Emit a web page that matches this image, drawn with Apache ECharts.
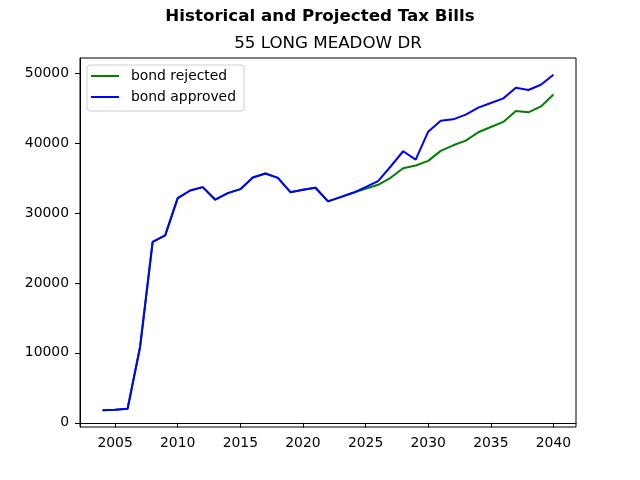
<!DOCTYPE html>
<html lang="en">
<head>
<meta charset="UTF-8">
<title>Historical and Projected Tax Bills</title>
<script src="https://cdn.jsdelivr.net/npm/echarts@6/dist/echarts.min.js"></script>
<style>
html, body { margin: 0; padding: 0; background: #fff; }
#chart { width: 640px; height: 480px; }
</style>
</head>
<body>
<div id="chart"></div>
<script>
// values
const years = [2004, 2005, 2006, 2007, 2008, 2009, 2010, 2011, 2012, 2013, 2014, 2015, 2016,
  2017, 2018, 2019, 2020, 2021, 2022, 2023, 2024, 2025, 2026, 2027, 2028, 2029, 2030, 2031,
  2032, 2033, 2034, 2035, 2036, 2037, 2038, 2039, 2040];
const bondRejected = [1810, 1850, 2000, 10880, 25850, 26800, 32120, 33210, 33690, 31890, 32830,
  33400, 35070, 35640, 35020, 32970, 33310, 33600, 31650, 32260, 32880, 33450, 34020, 35020,
  36400, 36780, 37440, 38870, 39670, 40340, 41530, 42290, 43010, 44570, 44380, 45230, 46940];
const bondApproved = [1810, 1850, 2000, 10880, 25850, 26800, 32120, 33210, 33690, 31890, 32830,
  33400, 35070, 35640, 35020, 32970, 33310, 33600, 31650, 32260, 32880, 33690, 34540, 36640,
  38820, 37630, 41620, 43190, 43380, 44050, 45050, 45720, 46380, 47900, 47570, 48330, 49750];
const xTicks = [2005, 2010, 2015, 2020, 2025, 2030, 2035, 2040];
const yTicks = [0, 10000, 20000, 30000, 40000, 50000];

const font = 'DejaVu Sans';
const chart = echarts.init(document.getElementById('chart'), null, { renderer: 'canvas' });

const pairs = arr => years.map((y, i) => [y, arr[i]]);

chart.setOption({
  animation: false,
  textStyle: { fontFamily: font, color: '#000' },
  graphic: [
    {
      type: 'text', x: 320, y: 17,
      style: { text: 'Historical and Projected Tax Bills', font: 'bold 16.7px "DejaVu Sans"',
        fill: '#000', textAlign: 'center', textVerticalAlign: 'middle' }
    },
    {
      type: 'text', x: 328, y: 44,
      style: { text: '55 LONG MEADOW DR', font: '16.7px "DejaVu Sans"',
        fill: '#000', textAlign: 'center', textVerticalAlign: 'middle' }
    }
  ],
  grid: {
    left: 80, right: 64, top: 58, bottom: 53,
    show: true, borderColor: '#000', borderWidth: 1, backgroundColor: '#fff'
  },
  legend: {
    orient: 'vertical',
    left: 87, top: 65,
    icon: 'rect',
    itemWidth: 28, itemHeight: 2,
    itemGap: 7,
    padding: [4, 8, 7, 4],
    backgroundColor: '#fff',
    borderColor: '#d0d0d0', borderWidth: 1, borderRadius: 3,
    textStyle: { fontFamily: font, fontSize: 13.9, color: '#000', padding: [0, 0, 0, 7] },
    data: ['bond rejected', 'bond approved']
  },
  xAxis: {
    type: 'value',
    min: 2002.2, max: 2041.8,
    splitLine: { show: false },
    axisLine: { show: true, lineStyle: { color: '#000', width: 1 } },
    axisTick: { show: true, length: 5, lineStyle: { color: '#000' }, customValues: xTicks },
    axisLabel: { fontFamily: font, fontSize: 13.9, color: '#000', margin: 9,
      customValues: xTicks, formatter: v => String(v) }
  },
  yAxis: {
    type: 'value',
    min: -600, max: 52150,
    splitLine: { show: false },
    axisLine: { show: true, lineStyle: { color: '#000', width: 1 } },
    axisTick: { show: true, length: 5, lineStyle: { color: '#000' }, customValues: yTicks },
    axisLabel: { fontFamily: font, fontSize: 13.9, color: '#000', margin: 11,
      customValues: yTicks, formatter: v => String(v) }
  },
  series: [
    {
      name: 'bond rejected', type: 'line', symbol: 'none',
      lineStyle: { color: '#008000', width: 2 }, itemStyle: { color: '#008000' },
      data: pairs(bondRejected)
    },
    {
      name: 'bond approved', type: 'line', symbol: 'none',
      lineStyle: { color: '#0000ff', width: 2 }, itemStyle: { color: '#0000ff' },
      data: pairs(bondApproved)
    }
  ]
});
</script>
</body>
</html>
